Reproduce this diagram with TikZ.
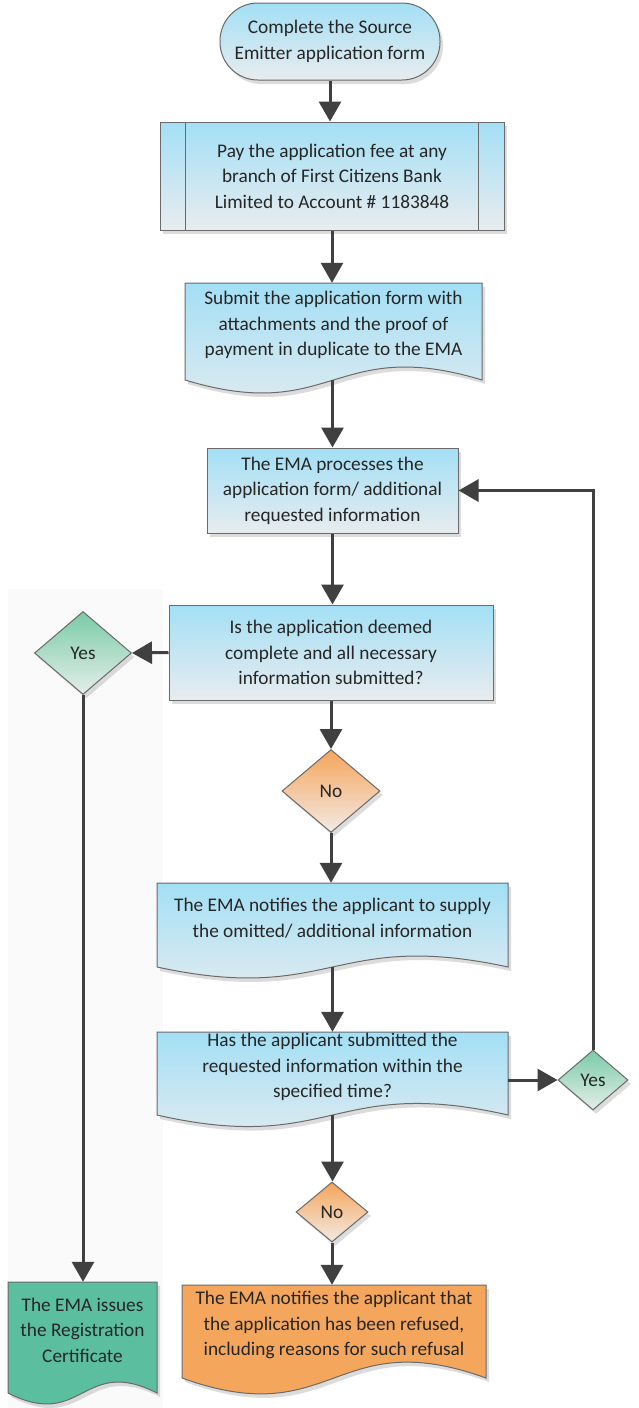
\documentclass[tikz,border=0pt]{standalone}
\usepackage{fontspec}
\setmainfont{Carlito}
\usetikzlibrary{arrows.meta,shapes.geometric,shadows,calc}
\definecolor{bluetop}{HTML}{A3DFF5}
\definecolor{bluebot}{HTML}{E8ECEF}
\definecolor{orangetop}{HTML}{F5A55A}
\definecolor{orangebot}{HTML}{F2EAE5}
\definecolor{greentop}{HTML}{7ACBA6}
\definecolor{greenbot}{HTML}{E4EEEA}
\definecolor{orangedoc}{HTML}{F4A65C}
\definecolor{greendoc}{HTML}{5BBF9F}
\definecolor{bordercol}{HTML}{6A6A6A}
\definecolor{conncol}{HTML}{404040}
\definecolor{textcol}{HTML}{262626}
\definecolor{bgpanel}{HTML}{FAFAFA}
\newcommand\docbg[6]{%
  \path[fill=black!30,opacity=0.45,shift={(3,4)}] (#1,#2) -- (#3,#2) -- (#3,#4) .. controls ({(#1+#3)/2},{#4-#5}) and ({(#1+#3)/2},{#4+#5}) .. (#1,#4) -- cycle;
  \path[#6] (#1,#2) -- (#3,#2) -- (#3,#4) .. controls ({(#1+#3)/2},{#4-#5}) and ({(#1+#3)/2},{#4+#5}) .. (#1,#4) -- cycle;}
\begin{document}
\begin{tikzpicture}[x=1pt,y=-1pt,
  txt/.style={font=\fontsize{19.3}{25.5}\selectfont, align=center, text=textcol, inner sep=0pt},
  shadowed/.style={drop shadow={shadow xshift=3pt,shadow yshift=-4pt,fill=black!30,opacity=0.45}},
  blueshape/.style={txt, draw=bordercol, line width=1pt, top color=bluetop, bottom color=bluebot, shadowed},
  bluefill/.style={draw=bordercol, line width=1pt, top color=bluetop, bottom color=bluebot},
  orangefill/.style={draw=bordercol, line width=1pt, fill=orangedoc},
  greenfill/.style={draw=bordercol, line width=1pt, fill=greendoc},
  odiam/.style={txt, shape=diamond, draw=bordercol, line width=1pt, top color=orangetop, bottom color=orangebot, shadowed},
  gdiam/.style={txt, shape=diamond, draw=bordercol, line width=1pt, top color=greentop, bottom color=greenbot, shadowed},
  hold/.style={rectangle, draw=none, inner sep=0pt},
  conn/.style={draw=conncol, line width=3pt, -{Triangle[length=20pt,width=22pt]}},
  line/.style={draw=conncol, line width=3pt}
]
\useasboundingbox (0,0) rectangle (639,1408);
\fill[white] (0,0) rectangle (639,1408);
\fill[bgpanel] (8,589) rectangle (163,1408);

% terminator
\node[blueshape, rounded corners=38, minimum width=220, minimum height=77] (term) at (330,41.5) {Complete the Source\\Emitter application form};

% predefined process
\node[blueshape, minimum width=344, minimum height=108] (pay) at (332,176) {Pay the application fee at any\\branch of First Citizens Bank\\Limited to Account \# 1183848};
\draw[bordercol, line width=1pt] ([xshift=26]pay.north west) -- ([xshift=26]pay.south west);
\draw[bordercol, line width=1pt] ([xshift=-26]pay.north east) -- ([xshift=-26]pay.south east);

% submit document
\docbg{185}{283}{482}{380}{45}{bluefill}
\node[hold, minimum width=297, minimum height=97, label={[txt,yshift=6.5pt]center:{Submit the application form with\\attachments and the proof of\\payment in duplicate to the EMA}}] (sub) at (333.5,331.5) {};

% process
\node[blueshape, minimum width=251, minimum height=85] (proc) at (332.5,490.5) {The EMA processes the\\application form/ additional\\requested information};

% decision
\node[blueshape, minimum width=324, minimum height=95] (dec) at (331,652.5) {Is the application deemed\\complete and all necessary\\information submitted?};

\node[gdiam, minimum width=97, minimum height=83] (yes1) at (83,653) {Yes};
\node[odiam, minimum width=98, minimum height=83] (no1) at (331,791) {No};

% notify document
\docbg{157}{883}{508}{967}{38}{bluefill}
\node[hold, minimum width=351, minimum height=84, label={[txt,yshift=7pt]center:{The EMA notifies the applicant to supply\\the omitted/ additional information}}] (notify) at (332.5,925) {};

% has document
\docbg{157}{1032}{508}{1115}{40}{bluefill}
\node[hold, minimum width=351, minimum height=83, label={[txt,yshift=6.5pt]center:{Has the applicant submitted the\\requested information within the\\specified time?}}] (has) at (332.5,1073.5) {};

\node[gdiam, minimum width=70, minimum height=60] (yes2) at (593,1080) {Yes};
\node[odiam, minimum width=72, minimum height=60] (no2) at (332,1212) {No};

% green document
\docbg{8}{1282}{157}{1393}{38}{greenfill}
\node[hold, minimum width=149, minimum height=111, label={[txt,yshift=7.5pt]center:{The EMA issues\\the Registration\\Certificate}}] (green) at (82.5,1337.5) {};

% orange document
\docbg{182}{1285}{486}{1378}{55}{orangefill}
\node[hold, minimum width=304, minimum height=93, label={[txt,yshift=6.5pt]center:{The EMA notifies the applicant that\\the application has been refused,\\including reasons for such refusal}}] (orange) at (334,1331.5) {};

% connectors
\draw[conn] (term.south) -- (term.south |- pay.north);
\draw[conn] (pay.south) -- (pay.south |- sub.north);
\draw[conn] (sub.south -| proc.north) -- (proc.north);
\draw[conn] (proc.south) -- (proc.south |- dec.north);
\draw[conn] (dec.west) -- (yes1.east);
\draw[conn] (yes1.south) -- (yes1.south |- green.north);
\draw[conn] (dec.south) -- (dec.south |- no1.north);
\draw[conn] (no1.south) -- (no1.south |- notify.north);
\draw[conn] (notify.south) -- (has.north);
\draw[conn] (has.east |- yes2.west) -- (yes2.west);
\draw[conn] (yes2.north) |- (proc.east);
\draw[conn] (has.south) -- (has.south |- no2.north);
\draw[conn] (no2.south) -- (no2.south |- orange.north);
\end{tikzpicture}
\end{document}
